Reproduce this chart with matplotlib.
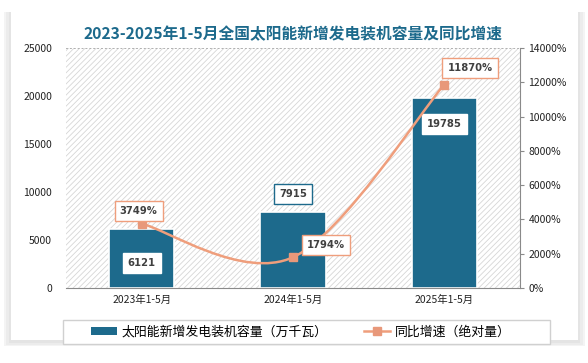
import numpy as np
import matplotlib.pyplot as plt
from matplotlib.path import Path
from matplotlib.patches import PathPatch, Rectangle, Patch
from matplotlib.lines import Line2D

plt.rcParams['font.family'] = ['Noto Sans CJK SC', 'DejaVu Sans']
plt.rcParams['hatch.linewidth'] = 0.6

categories = ['2023年1-5月', '2024年1-5月', '2025年1-5月']
capacity = [6121, 7915, 19785]          # 万千瓦
growth = [3749, 1794, 11870]            # %
left_ticks = [0, 5000, 10000, 15000, 20000, 25000]
right_ticks = [0, 2000, 4000, 6000, 8000, 10000, 12000, 14000]

bar_color = '#1d6a8c'
line_color = '#ef9e7c'
text_gray = '#404040'

fig = plt.figure(figsize=(5.88, 3.63), dpi=100)
fig.patch.set_facecolor('white')

# card with soft shadow (behind the axes)
for i, c in enumerate(['#f4f4f4', '#ececec', '#e4e4e4']):
    d = (3 - i) * 0.004
    fig.patches.append(Rectangle((11/588 - d, 1 - 342/363 - d), 567/588 + 2*d, 330/363 + d,
                                 transform=fig.transFigure, facecolor=c, edgecolor='none', zorder=-3))
fig.patches.append(Rectangle((11/588, 1 - 340/363), 567/588, 328/363,
                             transform=fig.transFigure, facecolor='white', edgecolor='none', zorder=-2))
fig.patches.append(Rectangle((63/588, 1 - 344/363), 487/588, 24/363, transform=fig.transFigure,
                             facecolor='white', edgecolor='#d0d0d0', linewidth=1, zorder=-1))

ax = fig.add_axes([66/588, 1 - 288/363, 454/588, 240/363])
ax.set_facecolor('none')
ax.add_patch(Rectangle((0, 0), 1, 1, transform=ax.transAxes, facecolor='white',
                       edgecolor='#d6d6d6', hatch='//////', linewidth=0, zorder=0))

x = np.arange(len(categories))
ax.bar(x, capacity, width=0.43, color=bar_color, edgecolor='white', linewidth=1.2, zorder=2)
ax.set_xlim(-0.5, 2.5)
ax.set_ylim(0, 25000)
ax.set_yticks(left_ticks)
ax.set_xticks(x)
ax.set_xticklabels(categories, fontsize=7.5, color='#222222')
ax.tick_params(axis='y', length=0, labelsize=7.5, labelcolor='#222222', pad=10)
ax.tick_params(axis='x', length=0, pad=5)
for s in ['left', 'right']:
    ax.spines[s].set_visible(False)
ax.spines['top'].set_linestyle((0, (1, 3)))
ax.spines['top'].set_color('#b0b0b0')
ax.spines['top'].set_linewidth(0.7)
ax.spines['bottom'].set_color('#8a8a8a')

label_y = [2600, 9800, 17100]
edges = ['white', bar_color, 'white']
for xi, v, ly, ec in zip(x, capacity, label_y, edges):
    ax.text(xi, ly, str(v), ha='center', va='center', fontsize=7.2, fontweight='bold',
            color=text_gray, family='DejaVu Sans', zorder=5,
            bbox=dict(boxstyle='square,pad=0.5', facecolor='white', edgecolor=ec, linewidth=1))

ax2 = ax.twinx()
ax2.set_ylim(0, 14000)
ax2.set_yticks(right_ticks)
ax2.set_yticklabels([f'{t}%' for t in right_ticks])
ax2.tick_params(axis='y', direction='out', length=3, color='#8a8a8a', labelsize=7.5,
                labelcolor='#222222', pad=3)
for s in ['top', 'left', 'bottom']:
    ax2.spines[s].set_visible(False)
ax2.spines['right'].set_color('#8a8a8a')

# smooth curve through the points (cubic bezier, catmull-rom style)
pts = np.column_stack([x, growth]).astype(float)
verts = [tuple(pts[0])]
codes = [Path.MOVETO]
n = len(pts)
for i in range(n - 1):
    p0 = pts[max(i - 1, 0)]
    p1 = pts[i]
    p2 = pts[i + 1]
    p3 = pts[min(i + 2, n - 1)]
    c1 = p1 + (p2 - p0) / 6
    c2 = p2 - (p3 - p1) / 6
    verts += [tuple(c1), tuple(c2), tuple(p2)]
    codes += [Path.CURVE4] * 3
ax2.add_patch(PathPatch(Path(verts, codes), facecolor='none', edgecolor=line_color,
                        linewidth=1.8, zorder=3))
ax2.plot(x, growth, linestyle='none', marker='s', markersize=6, color='#e8987a', zorder=4)

pct_pos = [(-0.02, 4490), (1.22, 2510), (2.17, 12830)]
for (px, py), g in zip(pct_pos, growth):
    ax2.text(px, py, f'{g}%', ha='center', va='center', fontsize=7.2, fontweight='bold',
             color=text_gray, family='DejaVu Sans', zorder=6,
             bbox=dict(boxstyle='square,pad=0.5', facecolor='white', edgecolor=line_color, linewidth=1))

fig.text(293/588, 1 - 34/363, '2023-2025年1-5月全国太阳能新增发电装机容量及同比增速',
         ha='center', va='center', fontsize=11.3, fontweight='bold', color='#1d6a8c')

# legend
handles = [Patch(facecolor=bar_color, edgecolor='none'),
           Line2D([0], [0], color=line_color, linewidth=1.8, marker='s', markersize=6,
                  markerfacecolor='#e8987a', markeredgecolor='#e8987a')]
labels = ['太阳能新增发电装机容量（万千瓦）', '同比增速（绝对量）']
fig.legend(handles, labels, loc='center', bbox_to_anchor=(301/588, 1 - 332/363), ncol=2,
           frameon=False, fontsize=9.3, columnspacing=2.8, handlelength=2.0, handleheight=0.5,
           handletextpad=0.4)

fig.savefig('out.png', dpi=100)
